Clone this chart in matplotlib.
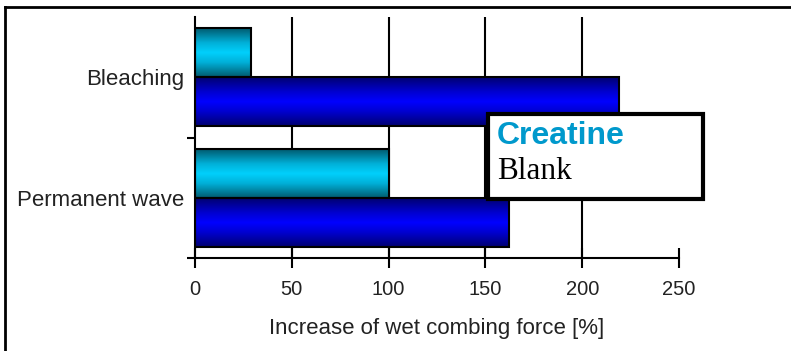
import numpy as np
import matplotlib.pyplot as plt
from matplotlib.colors import LinearSegmentedColormap
from matplotlib.lines import Line2D
from matplotlib.patches import Rectangle

categories = ['Permanent wave', 'Bleaching']
creatine = [100, 29]
blank = [162, 219]
x_ticks = [0, 50, 100, 150, 200, 250]

plt.rcParams['font.family'] = ['Liberation Sans', 'DejaVu Sans']

fig = plt.figure(figsize=(7.91, 3.51), dpi=100)
ax = fig.add_axes([195 / 791, 1 - 258 / 351, 484 / 791, 241 / 351])

# shaded bar fills, dark at the edges and bright in the middle
cyan_cmap = LinearSegmentedColormap.from_list(
    'cyan', [(0, '#005a6e'), (0.3, '#00b0d8'), (0.5, '#00d0fc'), (0.7, '#00b0d8'), (1, '#005a6e')])
blue_cmap = LinearSegmentedColormap.from_list(
    'blue', [(0, '#000070'), (0.3, '#0000d0'), (0.5, '#0000ff'), (0.7, '#0000d0'), (1, '#000070')])

y = np.arange(len(categories))
h = 0.405
bars_c = ax.barh(y + h / 2, creatine, height=h, facecolor='none', edgecolor='black', linewidth=1.5, zorder=3)
bars_b = ax.barh(y - h / 2, blank, height=h, facecolor='none', edgecolor='black', linewidth=1.5, zorder=3)

grad = np.linspace(0, 1, 256).reshape(-1, 1)
for bars, cmap in [(bars_c, cyan_cmap), (bars_b, blue_cmap)]:
    for b in bars:
        x0, y0 = b.get_x(), b.get_y()
        ax.imshow(grad, extent=[x0, x0 + b.get_width(), y0, y0 + b.get_height()],
                  aspect='auto', cmap=cmap, zorder=2, interpolation='bilinear')

ax.set_xlim(0, 250)
ax.set_ylim(-0.5, 1.5)

for v in x_ticks[1:-1]:
    ax.axvline(v, color='black', linewidth=1.5, zorder=1)

ax.spines['top'].set_visible(False)
ax.spines['right'].set_visible(False)
ax.spines['left'].set_linewidth(1.5)
ax.spines['bottom'].set_linewidth(1.5)

ax.set_xticks(x_ticks)
ax.tick_params(axis='x', direction='inout', length=15, width=1.5, labelsize=14.5,
               labelcolor='#222222', pad=8)

# category names sit between the group separators
ax.set_yticks([-0.5, 0.5])
ax.set_yticklabels([])
ax.tick_params(axis='y', which='major', direction='out', length=6, width=1.5)
ax.set_yticks(y, minor=True)
ax.set_yticklabels(categories, minor=True)
ax.tick_params(axis='y', which='minor', length=0, labelsize=16, labelcolor='#222222', pad=8)

ax.set_xlabel('Increase of wet combing force [%]', fontsize=16, color='#222222', labelpad=14)

# label box
fig.patches.append(Rectangle((488 / 791, 1 - 199 / 351), 215 / 791, 85 / 351,
                             transform=fig.transFigure, facecolor='white',
                             edgecolor='black', linewidth=3, zorder=5))
fig.text(497 / 791, 1 - 136 / 351, 'Creatine', color='#0099cc', fontsize=23,
         fontweight='bold', va='center', ha='left', zorder=6)
fig.text(497 / 791, 1 - 171 / 351, 'Blank', color='black', fontsize=22.5,
         family='Liberation Serif', va='center', ha='left', zorder=6)

# outer frame
fig.add_artist(Line2D([5 / 791, 1], [1 - 7 / 351, 1 - 7 / 351], transform=fig.transFigure,
                      color='black', linewidth=2))
fig.add_artist(Line2D([5 / 791, 5 / 791], [0, 1 - 7 / 351], transform=fig.transFigure,
                      color='black', linewidth=2))

fig.savefig('out.png', dpi=100)
